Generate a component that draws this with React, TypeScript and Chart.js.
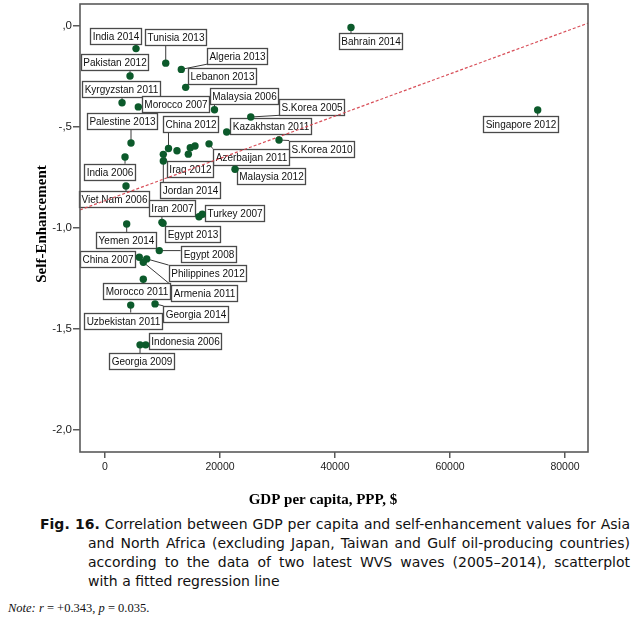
import React, { useEffect, useRef } from "react";
import { Chart, registerables } from "chart.js";

Chart.register(...registerables);

// ---------- data ----------
const countryLabels: string[] = [
  "India 2014", "Tunisia 2013", "Algeria 2013", "Pakistan 2012", "Lebanon 2013",
  "Kyrgyzstan 2011", "Morocco 2007", "Malaysia 2006", "S.Korea 2005", "Kazakhstan 2011",
  "S.Korea 2010", "Palestine 2013", "China 2012", "Azerbaijan 2011", "Iraq 2012",
  "Jordan 2014", "India 2006", "Malaysia 2012", "Viet Nam 2006", "Iran 2007",
  "Egypt 2013", "Turkey 2007", "Yemen 2014", "Egypt 2008", "China 2007",
  "Philippines 2012", "Armenia 2011", "Morocco 2011", "Georgia 2014", "Uzbekistan 2011",
  "Indonesia 2006", "Georgia 2009", "Bahrain 2014", "Singapore 2012",
  "", "", "", "", "",
];

const gdpPerCapita: number[] = [
  5390, 10560, 13270, 4350, 14030,
  2960, 5790, 19040, 25350, 21160,
  30260, 4520, 11040, 18090, 10140,
  10140, 3480, 22610, 3650, 9900,
  10090, 16350, 3770, 9440, 5960,
  7250, 6660, 6660, 8700, 4470,
  7080, 6090, 42780, 75250,
  12520, 14830, 15650, 14490, 16920,
];

const selfEnhancement: number[] = [
  -0.111, -0.183, -0.214, -0.247, -0.303,
  -0.379, -0.400, -0.414, -0.450, -0.524,
  -0.564, -0.579, -0.606, -0.583, -0.635,
  -0.668, -0.648, -0.709, -0.792, -0.972,
  -0.977, -0.944, -0.980, -1.112, -1.145,
  -1.153, -1.170, -1.254, -1.376, -1.382,
  -1.579, -1.579, -0.006, -0.415,
  -0.617, -0.602, -0.594, -0.634, -0.932,
];

const xTickValues = [0, 20000, 40000, 60000, 80000];
const xTickLabels = ["0", "20000", "40000", "60000", "80000"];
const yTickValues = [0, -0.5, -1, -1.5, -2];
const yTickLabels = [",0", "-,5", "-1,0", "-1,5", "-2,0"];

const xAxisMin = -4350;
const xAxisMax = 84000;
const yAxisMin = -2.11;
const yAxisMax = 0.11;

const regressionIntercept = -0.8645;
const regressionSlope = 1.047e-5;

const xAxisTitle = "GDP per capita, PPP, $";
const yAxisTitle = "Self-Enhancement";

// ---------- layout (label box centre offsets from point, px) ----------
const labelOffsets: [number, number][] = [
  [-21, -12.6], [10, -25.7], [56.2, -13.3], [-15.3, -14.5], [36.3, -11.6],
  [-1.5, -13.4], [37.2, -3], [29.3, -13.7], [61.2, -9.7], [44, -6.3],
  [42.7, 8.5], [-9.3, -22], [22.3, -24], [41.5, 12.8], [26.7, 14.2],
  [26, 29.2], [-15.8, 14.8], [36.3, 7], [-11.8, 13], [10.5, -14],
  [29, 10.8], [36, -3.2], [-0.5, 16], [48.7, 3], [-31.8, 2],
  [60.6, 14.2], [60, 30.3], [-7.1, 12.1], [40.7, 10], [-7.4, 15.5],
  [39.6, -3.8], [1, 16.2], [19.7, 14], [-17.7, 13.8],
  [0, 0], [0, 0], [0, 0], [0, 0], [0, 0],
];

const CANVAS_W = 641;
const CANVAS_H = 515;
const PLOT_LEFT = 80;
const PLOT_RIGHT = 588;
const PLOT_TOP = 3;
const PLOT_BOTTOM = 452;

const labelPlugin = {
  id: "pointLabels",
  beforeDatasetsDraw(chart: any) {
    const ctx: CanvasRenderingContext2D = chart.ctx;
    const meta = chart.getDatasetMeta(0);
    ctx.save();
    ctx.font = '10px "Liberation Sans", Arial, sans-serif';
    const boxes: { cx: number; cy: number; w: number; h: number; t: string }[] = [];
    meta.data.forEach((el: any, i: number) => {
      const t = countryLabels[i];
      if (!t) return;
      const [dx, dy] = labelOffsets[i];
      const cx = el.x + dx;
      const cy = el.y + dy;
      const w = ctx.measureText(t).width + 4;
      const h = 16;
      boxes.push({ cx, cy, w, h, t });
      const nx = Math.min(Math.max(el.x, cx - w / 2), cx + w / 2);
      const ny = Math.min(Math.max(el.y, cy - h / 2), cy + h / 2);
      if (Math.hypot(el.x - nx, el.y - ny) > 4) {
        ctx.beginPath();
        ctx.strokeStyle = "#3a3a3a";
        ctx.lineWidth = 1;
        ctx.moveTo(el.x, el.y);
        ctx.lineTo(nx, ny);
        ctx.stroke();
      }
    });
    boxes.forEach((b) => {
      const x = Math.round(b.cx - b.w / 2) + 0.5;
      const y = Math.round(b.cy - b.h / 2) + 0.5;
      ctx.fillStyle = "#ffffff";
      ctx.fillRect(x, y, Math.round(b.w), b.h);
      ctx.strokeStyle = "#4a4a4a";
      ctx.lineWidth = 1.3;
      ctx.strokeRect(x, y, Math.round(b.w), b.h);
      ctx.fillStyle = "#111";
      ctx.textAlign = "center";
      ctx.textBaseline = "middle";
      ctx.fillText(b.t, x + Math.round(b.w) / 2, y + b.h / 2 + 0.5);
    });
    ctx.restore();
  },
};

const framePlugin = {
  id: "frameAndTitles",
  afterDraw(chart: any) {
    const ctx: CanvasRenderingContext2D = chart.ctx;
    const a = chart.chartArea;
    ctx.save();
    ctx.strokeStyle = "#5a5a5a";
    ctx.lineWidth = 1.6;
    ctx.strokeRect(a.left, a.top, a.right - a.left, a.bottom - a.top);
    ctx.fillStyle = "#000";
    ctx.font = 'bold 15px "Liberation Serif", "Times New Roman", serif';
    ctx.textAlign = "center";
    ctx.textBaseline = "middle";
    ctx.fillText(xAxisTitle, 323, 500);
    ctx.translate(42, 224);
    ctx.rotate(-Math.PI / 2);
    ctx.fillText(yAxisTitle, 0, 0);
    ctx.restore();
  },
};

export default function App() {
  const canvasRef = useRef<HTMLCanvasElement | null>(null);

  useEffect(() => {
    if (!canvasRef.current) return;
    const points = gdpPerCapita.map((x, i) => ({ x, y: selfEnhancement[i] }));
    const regression = [xAxisMin, xAxisMax].map((x) => ({
      x,
      y: regressionIntercept + regressionSlope * x,
    }));

    const chart = new Chart(canvasRef.current, {
      type: "scatter",
      data: {
        datasets: [
          {
            type: "scatter",
            label: "Countries",
            data: points,
            pointRadius: 3.7,
            pointBackgroundColor: "#0c5a2b",
            pointBorderColor: "#0c5a2b",
            pointBorderWidth: 0,
          },
          {
            type: "line",
            label: "Fit",
            data: regression,
            borderColor: "rgba(214,70,80,0.95)",
            borderWidth: 1.2,
            borderDash: [3, 2],
            pointRadius: 0,
            fill: false,
            tension: 0,
          } as any,
        ],
      },
      options: {
        responsive: false,
        animation: false,
        layout: {
          padding: { left: 0, right: CANVAS_W - PLOT_RIGHT, top: PLOT_TOP, bottom: 0 },
        },
        plugins: {
          legend: { display: false },
          tooltip: { enabled: false },
        },
        scales: {
          x: {
            type: "linear",
            min: xAxisMin,
            max: xAxisMax,
            afterBuildTicks: (s: any) => {
              s.ticks = xTickValues.map((v) => ({ value: v }));
            },
            afterFit: (s: any) => {
              s.height = CANVAS_H - PLOT_BOTTOM;
              s.paddingLeft = 0;
              s.paddingRight = 0;
              s.paddingTop = 0;
              s.paddingBottom = 0;
            },
            ticks: {
              autoSkip: false,
              maxRotation: 0,
              padding: 3,
              color: "#222",
              font: { family: '"Liberation Sans", Arial, sans-serif', size: 10.5 },
              callback: (v: any) => {
                const i = xTickValues.indexOf(Number(v));
                return i >= 0 ? xTickLabels[i] : "";
              },
            },
            grid: {
              drawOnChartArea: false,
              drawTicks: true,
              tickLength: 6,
              color: "#5a5a5a",
              lineWidth: 1.5,
            },
            border: { display: false },
          },
          y: {
            type: "linear",
            min: yAxisMin,
            max: yAxisMax,
            afterBuildTicks: (s: any) => {
              s.ticks = yTickValues.map((v) => ({ value: v }));
            },
            afterFit: (s: any) => {
              s.width = PLOT_LEFT;
              s.paddingLeft = 0;
              s.paddingRight = 0;
              s.paddingTop = 0;
              s.paddingBottom = 0;
            },
            ticks: {
              autoSkip: false,
              padding: 1,
              color: "#222",
              font: { family: '"Liberation Sans", Arial, sans-serif', size: 11.5 },
              callback: (v: any) => {
                const i = yTickValues.indexOf(Number(v));
                return i >= 0 ? yTickLabels[i] : "";
              },
            },
            grid: {
              drawOnChartArea: false,
              drawTicks: true,
              tickLength: 7,
              color: "#5a5a5a",
              lineWidth: 1.5,
            },
            border: { display: false },
          },
        },
      },
      plugins: [labelPlugin, framePlugin],
    });
    return () => chart.destroy();
  }, []);

  const lineStyle: React.CSSProperties = {
    whiteSpace: "nowrap",
    textAlign: "justify",
    textAlignLast: "justify" as any,
    height: 19,
    lineHeight: "19px",
  };

  return (
    <div
      style={{
        position: "fixed",
        left: 0,
        top: 0,
        width: CANVAS_W,
        height: 625,
        background: "#fff",
        overflow: "hidden",
      }}
    >
      <canvas
        ref={canvasRef}
        width={CANVAS_W}
        height={CANVAS_H}
        style={{ position: "absolute", left: 0, top: 0, width: CANVAS_W, height: CANVAS_H }}
      />
      <div
        style={{
          position: "absolute",
          left: 40,
          top: 515,
          width: 590,
          fontFamily: '"DejaVu Sans", Verdana, sans-serif',
          fontSize: 14,
          color: "#111",
        }}
      >
        <div style={lineStyle}>
          <b>Fig. 16.</b> Correlation between GDP per capita and self-enhancement values for Asia
        </div>
        <div style={{ ...lineStyle, marginLeft: 48 }}>
          and North Africa (excluding Japan, Taiwan and Gulf oil-producing countries)
        </div>
        <div style={{ ...lineStyle, marginLeft: 48 }}>
          according to the data of two latest WVS waves (2005–2014), scatterplot
        </div>
        <div style={{ ...lineStyle, marginLeft: 48, textAlignLast: "left" as any }}>
          with a fitted regression line
        </div>
      </div>
      <div
        style={{
          position: "absolute",
          left: 8,
          top: 601,
          fontFamily: '"Liberation Serif", "Times New Roman", serif',
          fontSize: 12.5,
          color: "#111",
        }}
      >
        <i>Note:</i> <i>r</i> = +0.343, <i>p</i> = 0.035.
      </div>
    </div>
  );
}
